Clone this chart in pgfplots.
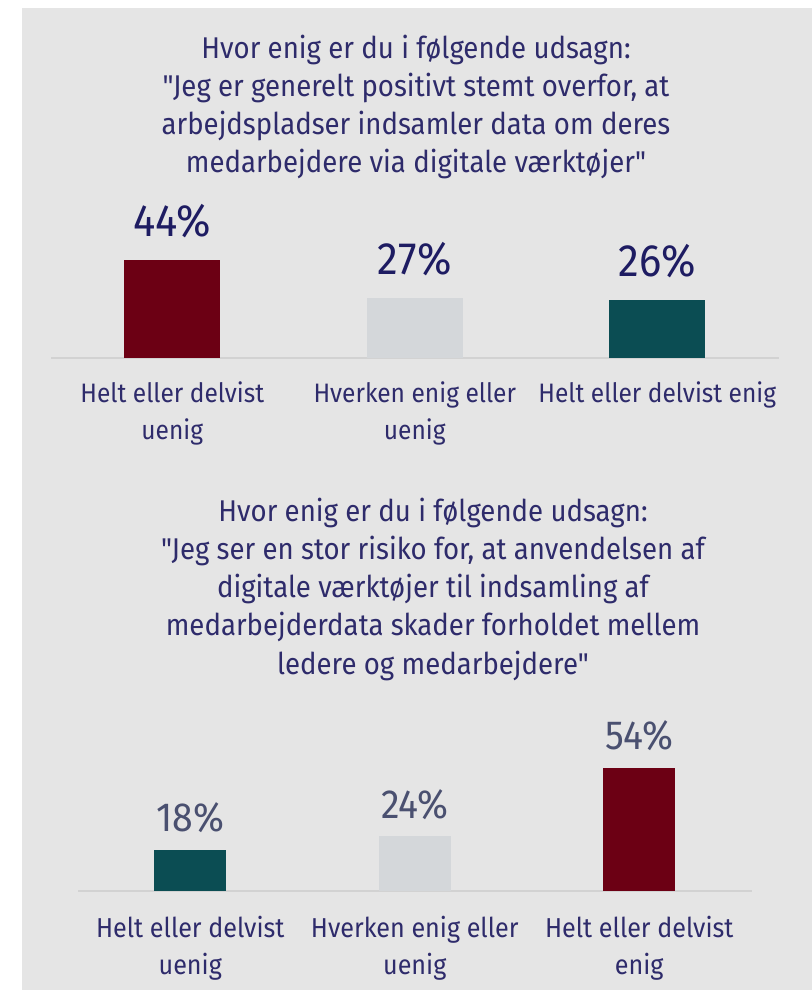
\documentclass[border=0pt]{standalone}
\usepackage{pgfplots}
\pgfplotsset{compat=1.18}
\usepackage{fontspec}
\setmainfont{Fira Sans}[FakeStretch=0.92, Ligatures=TeXOff]
\definecolor{bgc}{HTML}{E5E5E5}
\definecolor{navyc}{HTML}{2E2B6B}
\definecolor{darknavyc}{HTML}{1E1C62}
\definecolor{slatec}{HTML}{4A5070}
\definecolor{winec}{HTML}{6C0014}
\definecolor{lgreyc}{HTML}{D4D7DA}
\definecolor{tealc}{HTML}{0B4D53}
\definecolor{linec}{HTML}{D2D2D2}
\begin{document}
\begin{tikzpicture}
\useasboundingbox (0,0) rectangle (609pt,742.5pt);
\fill[white] (0,0) rectangle (609pt,742.5pt);
\fill[bgc] (16.5pt,0) rectangle (609pt,736.5pt);
\node[align=center, text=navyc, font=\fontsize{22.5}{28.5}\selectfont] at (312pt,661.9pt)
 {Hvor enig er du i følgende udsagn:\\"Jeg er generelt positivt stemt overfor, at\\arbejdspladser indsamler data om deres\\medarbejdere via digitale værktøjer"};
\node[align=center, text=navyc, font=\fontsize{22.5}{28.7}\selectfont] at (324.75pt,300.6pt)
 {Hvor enig er du i følgende udsagn:\\"Jeg ser en stor risiko for, at anvendelsen af\\digitale værktøjer til indsamling af\\medarbejderdata skader forholdet mellem\\ledere og medarbejdere"};

\begin{axis}[
  at={(38.25pt,474pt)}, anchor=south west,
  x=181.875pt, y=1.6725pt,
  xmin=-0.5, xmax=2.5, ymin=0, ymax=50,
  axis x line=bottom, axis y line=none,
  x axis line style={-, draw=linec, line width=1.1pt},
  xtick={0,1,2},
  xticklabels={{Helt eller delvist\\uenig},{Hverken enig eller\\uenig},{Helt eller delvist enig}},
  major tick length=0pt,
  xticklabel style={align=center, text=navyc, font=\fontsize{20}{27.75}\selectfont, anchor=north, yshift=-14pt},
  ybar, bar width=72pt,
  /pgf/number format/assume math mode=true,
  nodes near coords={\pgfmathprintnumber{\pgfplotspointmeta}\%},
  every node near coord/.append style={text=darknavyc, font=\fontsize{34}{34}\selectfont, yshift=13pt},
  clip=false,
]
\addplot[fill=winec, draw=none, bar shift=0pt] coordinates {(0,44)};
\addplot[fill=lgreyc, draw=none, bar shift=0pt] coordinates {(1,27)};
\addplot[fill=tealc, draw=none, bar shift=0pt] coordinates {(2,26)};
\end{axis}

\begin{axis}[
  at={(58.5pt,74.25pt)}, anchor=south west,
  x=168.375pt, y=1.71pt,
  xmin=-0.5, xmax=2.5, ymin=0, ymax=60,
  axis x line=bottom, axis y line=none,
  x axis line style={-, draw=linec, line width=1.1pt},
  xtick={0,1,2},
  xticklabels={{Helt eller delvist\\uenig},{Hverken enig eller\\uenig},{Helt eller delvist\\enig}},
  major tick length=0pt,
  xticklabel style={align=center, text=navyc, font=\fontsize{20.5}{27.75}\selectfont, anchor=north, yshift=-15.5pt},
  ybar, bar width=54pt,
  /pgf/number format/assume math mode=true,
  nodes near coords={\pgfmathprintnumber{\pgfplotspointmeta}\%},
  every node near coord/.append style={text=slatec, font=\fontsize{30.5}{30.5}\selectfont, yshift=9pt},
  clip=false,
]
\addplot[fill=tealc, draw=none, bar shift=0pt] coordinates {(0,18)};
\addplot[fill=lgreyc, draw=none, bar shift=0pt] coordinates {(1,24)};
\addplot[fill=winec, draw=none, bar shift=0pt] coordinates {(2,54)};
\end{axis}
\end{tikzpicture}
\end{document}
